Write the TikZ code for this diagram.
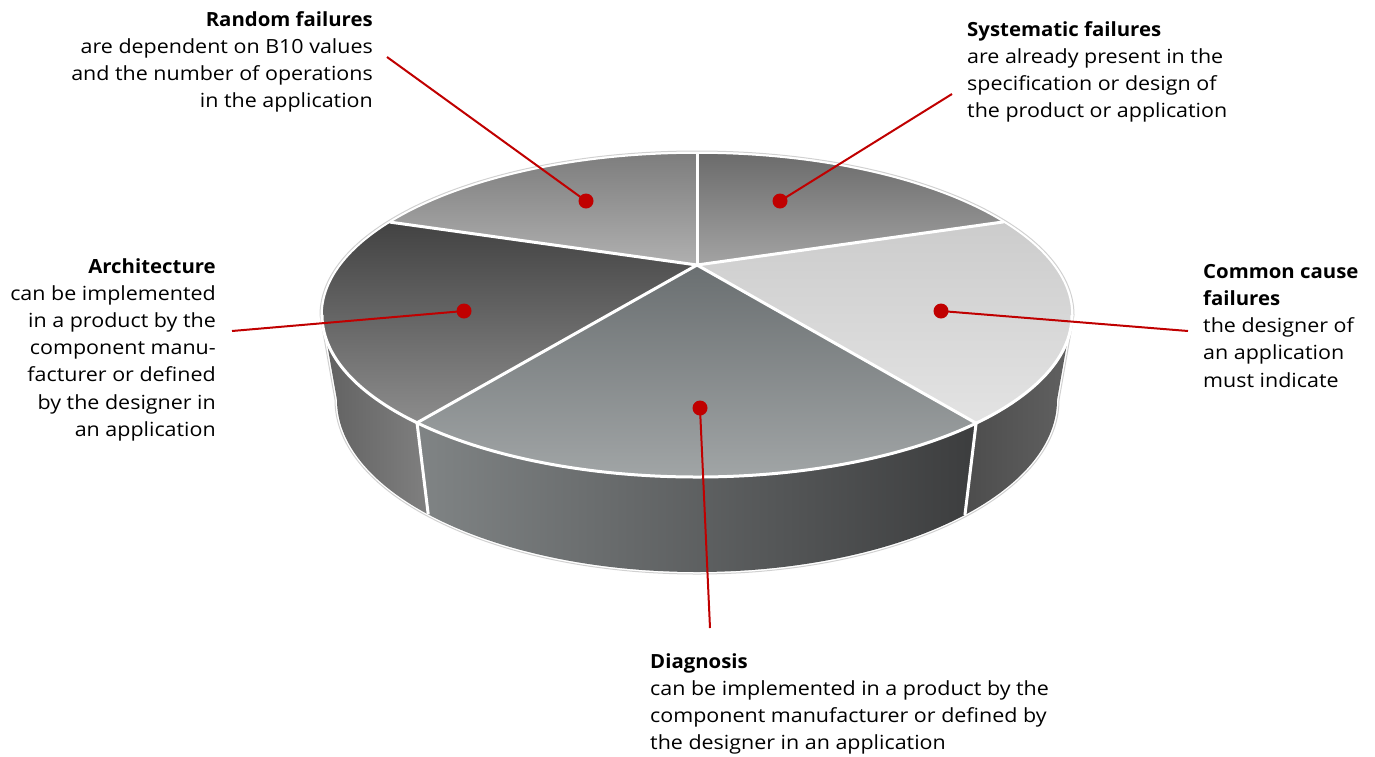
\documentclass[tikz,border=0pt]{standalone}
\usepackage{fontspec}
\setmainfont{Open Sans}[FakeStretch=1.1, BoldFeatures={FakeStretch=1.045}]
\usetikzlibrary{calc}

\definecolor{abbred}{HTML}{C00000}

\tikzset{
  dot/.style={circle, fill=abbred, inner sep=0pt, minimum size=15pt},
  redline/.style={abbred, line width=2pt},
  blurb/.style={font=\fontsize{19.5}{27.2}\selectfont, inner sep=0pt},
  sepline/.style={white, line width=3pt},
}

\begin{document}
\begin{tikzpicture}[x=1pt, y=1pt]
  \useasboundingbox (0,0) rectangle (1375,-756);

  % ellipse centres and apex
  \coordinate (T) at (697,-315);
  \coordinate (B) at (697,-400);
  \coordinate (O) at (697,-265);

  % side walls
  \shade[left color=black!62, right color=black!50]
    ($(T)+(180:375 and 162)$) arc[start angle=180, end angle=221.7, x radius=375, y radius=162]
    -- ($(B)+(221.7:360 and 172)$) arc[start angle=221.7, end angle=180, x radius=360, y radius=172] -- cycle;
  \shade[left color={rgb,255:red,128;green,132;blue,133}, right color={rgb,255:red,60;green,61;blue,62}]
    ($(T)+(221.7:375 and 162)$) arc[start angle=221.7, end angle=318.1, x radius=375, y radius=162]
    -- ($(B)+(318.1:360 and 172)$) arc[start angle=318.1, end angle=221.7, x radius=360, y radius=172] -- cycle;
  \shade[left color=black!70, right color=black!62]
    ($(T)+(318.1:375 and 162)$) arc[start angle=318.1, end angle=360, x radius=375, y radius=162]
    -- ($(B)+(360:360 and 172)$) arc[start angle=360, end angle=318.1, x radius=360, y radius=172] -- cycle;

  % top slices
  \shade[top color=black!51, bottom color=black!31]
    (O) -- ($(T)+(145:375 and 162)$) arc[start angle=145, end angle=90, x radius=375, y radius=162] -- cycle;
  \shade[top color=black!58, bottom color=black!36]
    (O) -- ($(T)+(90:375 and 162)$) arc[start angle=90, end angle=35.1, x radius=375, y radius=162] -- cycle;
  \shade[top color=black!20, bottom color=black!11]
    (O) -- ($(T)+(35.1:375 and 162)$) arc[start angle=35.1, end angle=-41.9, x radius=375, y radius=162] -- cycle;
  \shade[top color={rgb,255:red,106;green,111;blue,113}, bottom color={rgb,255:red,163;green,167;blue,168}]
    (O) -- ($(T)+(-41.9:375 and 162)$) arc[start angle=-41.9, end angle=-138.3, x radius=375, y radius=162] -- cycle;
  \shade[top color=black!74, bottom color=black!45]
    (O) -- ($(T)+(221.7:375 and 162)$) arc[start angle=221.7, end angle=145, x radius=375, y radius=162] -- cycle;

  % outline
  \draw[black!18, line width=1pt]
    ($(T)+(0:377 and 164)$) arc[start angle=0, end angle=180, x radius=377, y radius=164]
    -- ($(B)+(180:362 and 174)$) arc[start angle=180, end angle=360, x radius=362, y radius=174] -- cycle;

  % white separators
  \draw[sepline] ($(T)+(0:375 and 162)$) arc[start angle=0, end angle=-180, x radius=375, y radius=162];
  \draw[white, line width=1.5pt] ($(T)+(0:375 and 162)$) arc[start angle=0, end angle=180, x radius=375, y radius=162];
  \foreach \a in {90,35.1,-41.9,221.7,145}
    \draw[sepline] (O) -- ($(T)+(\a:375 and 162)$);
  \foreach \a in {221.7,318.1}
    \draw[sepline] ($(T)+(\a:375 and 162)$) -- ($(B)+(\a:360 and 172)$);

  % texts
  \node[blurb, anchor=north east, align=right] (rndtxt) at (373,-11)
    {\textbf{Random failures}\\are dependent on B10 values\\and the number of operations\\in the application};
  \node[blurb, anchor=north west, align=left] (systxt) at (967,-21)
    {\textbf{Systematic failures}\\are already present in the\\specification or design of\\the product or application};
  \node[blurb, anchor=north east, align=right] (archtxt) at (216,-258)
    {\textbf{Architecture}\\can be implemented\\in a product by the\\component manu-\\facturer or defined\\by the designer in\\an application};
  \node[blurb, anchor=north west, align=left] (ccftxt) at (1203,-264)
    {\textbf{Common cause}\\\textbf{failures}\\the designer of\\an application\\must indicate};
  \node[blurb, anchor=north west, align=left] (diagtxt) at (650,-653)
    {\textbf{Diagnosis}\\can be implemented in a product by the\\component manufacturer or defined by\\the designer in an application};

  % leader ends
  \coordinate (rndend) at (387,-57);
  \coordinate (sysend) at (952,-94);
  \coordinate (archend) at (232,-331);
  \coordinate (ccfend) at (1188,-331);
  \coordinate (diagend) at (710,-628);

  % dots and leaders
  \node[dot] (rnd) at (586,-201) {};
  \node[dot] (sys) at (780,-201) {};
  \node[dot] (arch) at (464,-311) {};
  \node[dot] (ccf) at (941,-311) {};
  \node[dot] (diag) at (700,-408) {};
  \draw[redline] (rnd.center) -- (rndend);
  \draw[redline] (sys.center) -- (sysend);
  \draw[redline] (arch.center) -- (archend);
  \draw[redline] (ccf.center) -- (ccfend);
  \draw[redline] (diag.center) -- (diagend);
\end{tikzpicture}
\end{document}
